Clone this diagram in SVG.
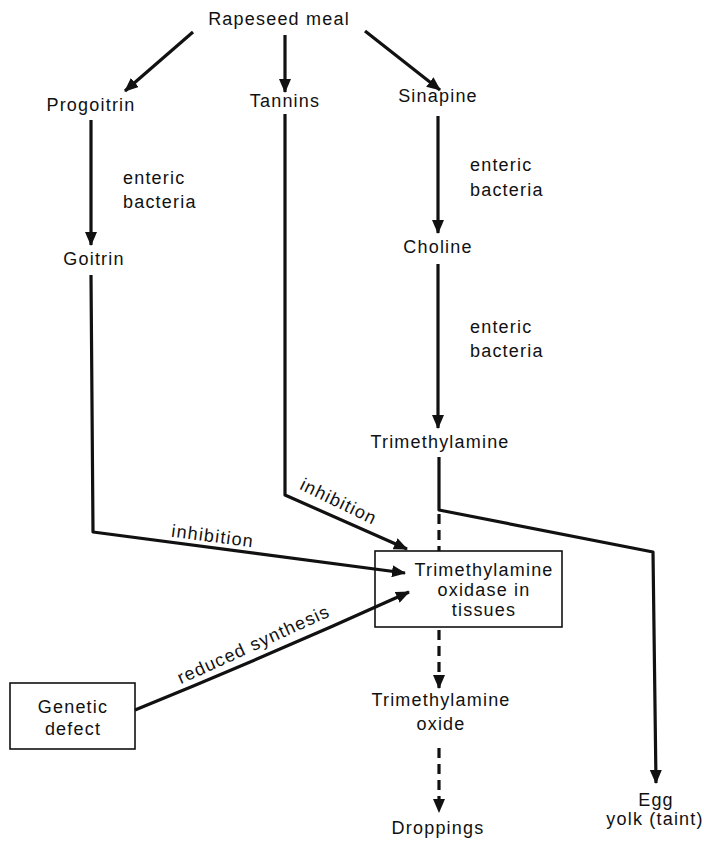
<svg xmlns="http://www.w3.org/2000/svg" width="704" height="843" viewBox="0 0 704 843">
<style>
text{font-family:"Liberation Sans",Arial,sans-serif;font-size:18px;letter-spacing:1.2px;fill:#111}
.c{text-anchor:middle}
.ln{fill:none;stroke:#111;stroke-width:3.2;stroke-linejoin:round}
.d{stroke-dasharray:10 6}
.box{fill:none;stroke:#111;stroke-width:1.6}
</style>
<defs>
<marker id="ah" viewBox="0 0 14 12" refX="13" refY="6" markerWidth="14" markerHeight="12" markerUnits="userSpaceOnUse" orient="auto">
<path d="M0,0 L14,6 L0,12 Z" fill="#111"/>
</marker>
</defs>
<rect width="704" height="843" fill="#fff"/>
<g id="connectors">
<line class="ln" x1="193" y1="32" x2="125" y2="91" marker-end="url(#ah)"/>
<line class="ln" x1="285" y1="35" x2="285" y2="92" marker-end="url(#ah)"/>
<line class="ln" x1="365" y1="31" x2="440" y2="90" marker-end="url(#ah)"/>
<line class="ln" x1="91" y1="120" x2="91" y2="245" marker-end="url(#ah)"/>
<line class="ln" x1="438" y1="116" x2="438" y2="233" marker-end="url(#ah)"/>
<line class="ln" x1="438" y1="264" x2="438" y2="428" marker-end="url(#ah)"/>
<polyline class="ln" points="91,275 93,532 405,573" marker-end="url(#ah)"/>
<polyline class="ln" points="285,114 285,495 407,549" marker-end="url(#ah)"/>
<polyline class="ln" points="439,457 439,510 653,552 656,783" marker-end="url(#ah)"/>
<line class="ln d" x1="439" y1="514" x2="439" y2="551"/>
<path class="ln" d="M135,710 Q270,655 409,592" marker-end="url(#ah)"/>
<line class="ln d" x1="439" y1="630" x2="439" y2="688" marker-end="url(#ah)"/>
<line class="ln d" x1="439" y1="748" x2="439" y2="812" marker-end="url(#ah)"/>
<text class="c" x="212" y="542" transform="rotate(7.4 212 542)">inhibition</text>
<text class="c" x="336" y="507" transform="rotate(26 336 507)">inhibition</text>
<text class="c" x="256" y="650" transform="rotate(-24.5 256 650)">reduced synthesis</text>
<text x="123" y="184">enteric</text>
<text x="123" y="208">bacteria</text>
<text x="470" y="171">enteric</text>
<text x="470" y="196">bacteria</text>
<text x="470" y="333">enteric</text>
<text x="470" y="357">bacteria</text>
</g>
<g id="rapeseed"><text class="c" x="279" y="25">Rapeseed meal</text></g>
<g id="progoitrin"><text class="c" x="91" y="111">Progoitrin</text></g>
<g id="tannins"><text class="c" x="285" y="107">Tannins</text></g>
<g id="sinapine"><text class="c" x="438" y="102">Sinapine</text></g>
<g id="goitrin"><text class="c" x="94" y="265">Goitrin</text></g>
<g id="choline"><text class="c" x="438" y="253">Choline</text></g>
<g id="tma"><text class="c" x="440" y="448">Trimethylamine</text></g>
<g id="tmao-enzyme">
<rect class="box" x="375" y="551" width="187" height="76"/>
<text class="c" x="484" y="576">Trimethylamine</text>
<text class="c" x="484" y="596">oxidase in</text>
<text class="c" x="484" y="616">tissues</text>
</g>
<g id="genetic">
<rect class="box" x="10" y="683" width="125" height="66"/>
<text class="c" x="73" y="713">Genetic</text>
<text class="c" x="73" y="735">defect</text>
</g>
<g id="tmao"><text class="c" x="441" y="706">Trimethylamine</text><text class="c" x="441" y="730">oxide</text></g>
<g id="droppings"><text class="c" x="438" y="834">Droppings</text></g>
<g id="egg"><text class="c" x="656" y="806">Egg</text><text class="c" x="655" y="825">yolk (taint)</text></g>
</svg>
